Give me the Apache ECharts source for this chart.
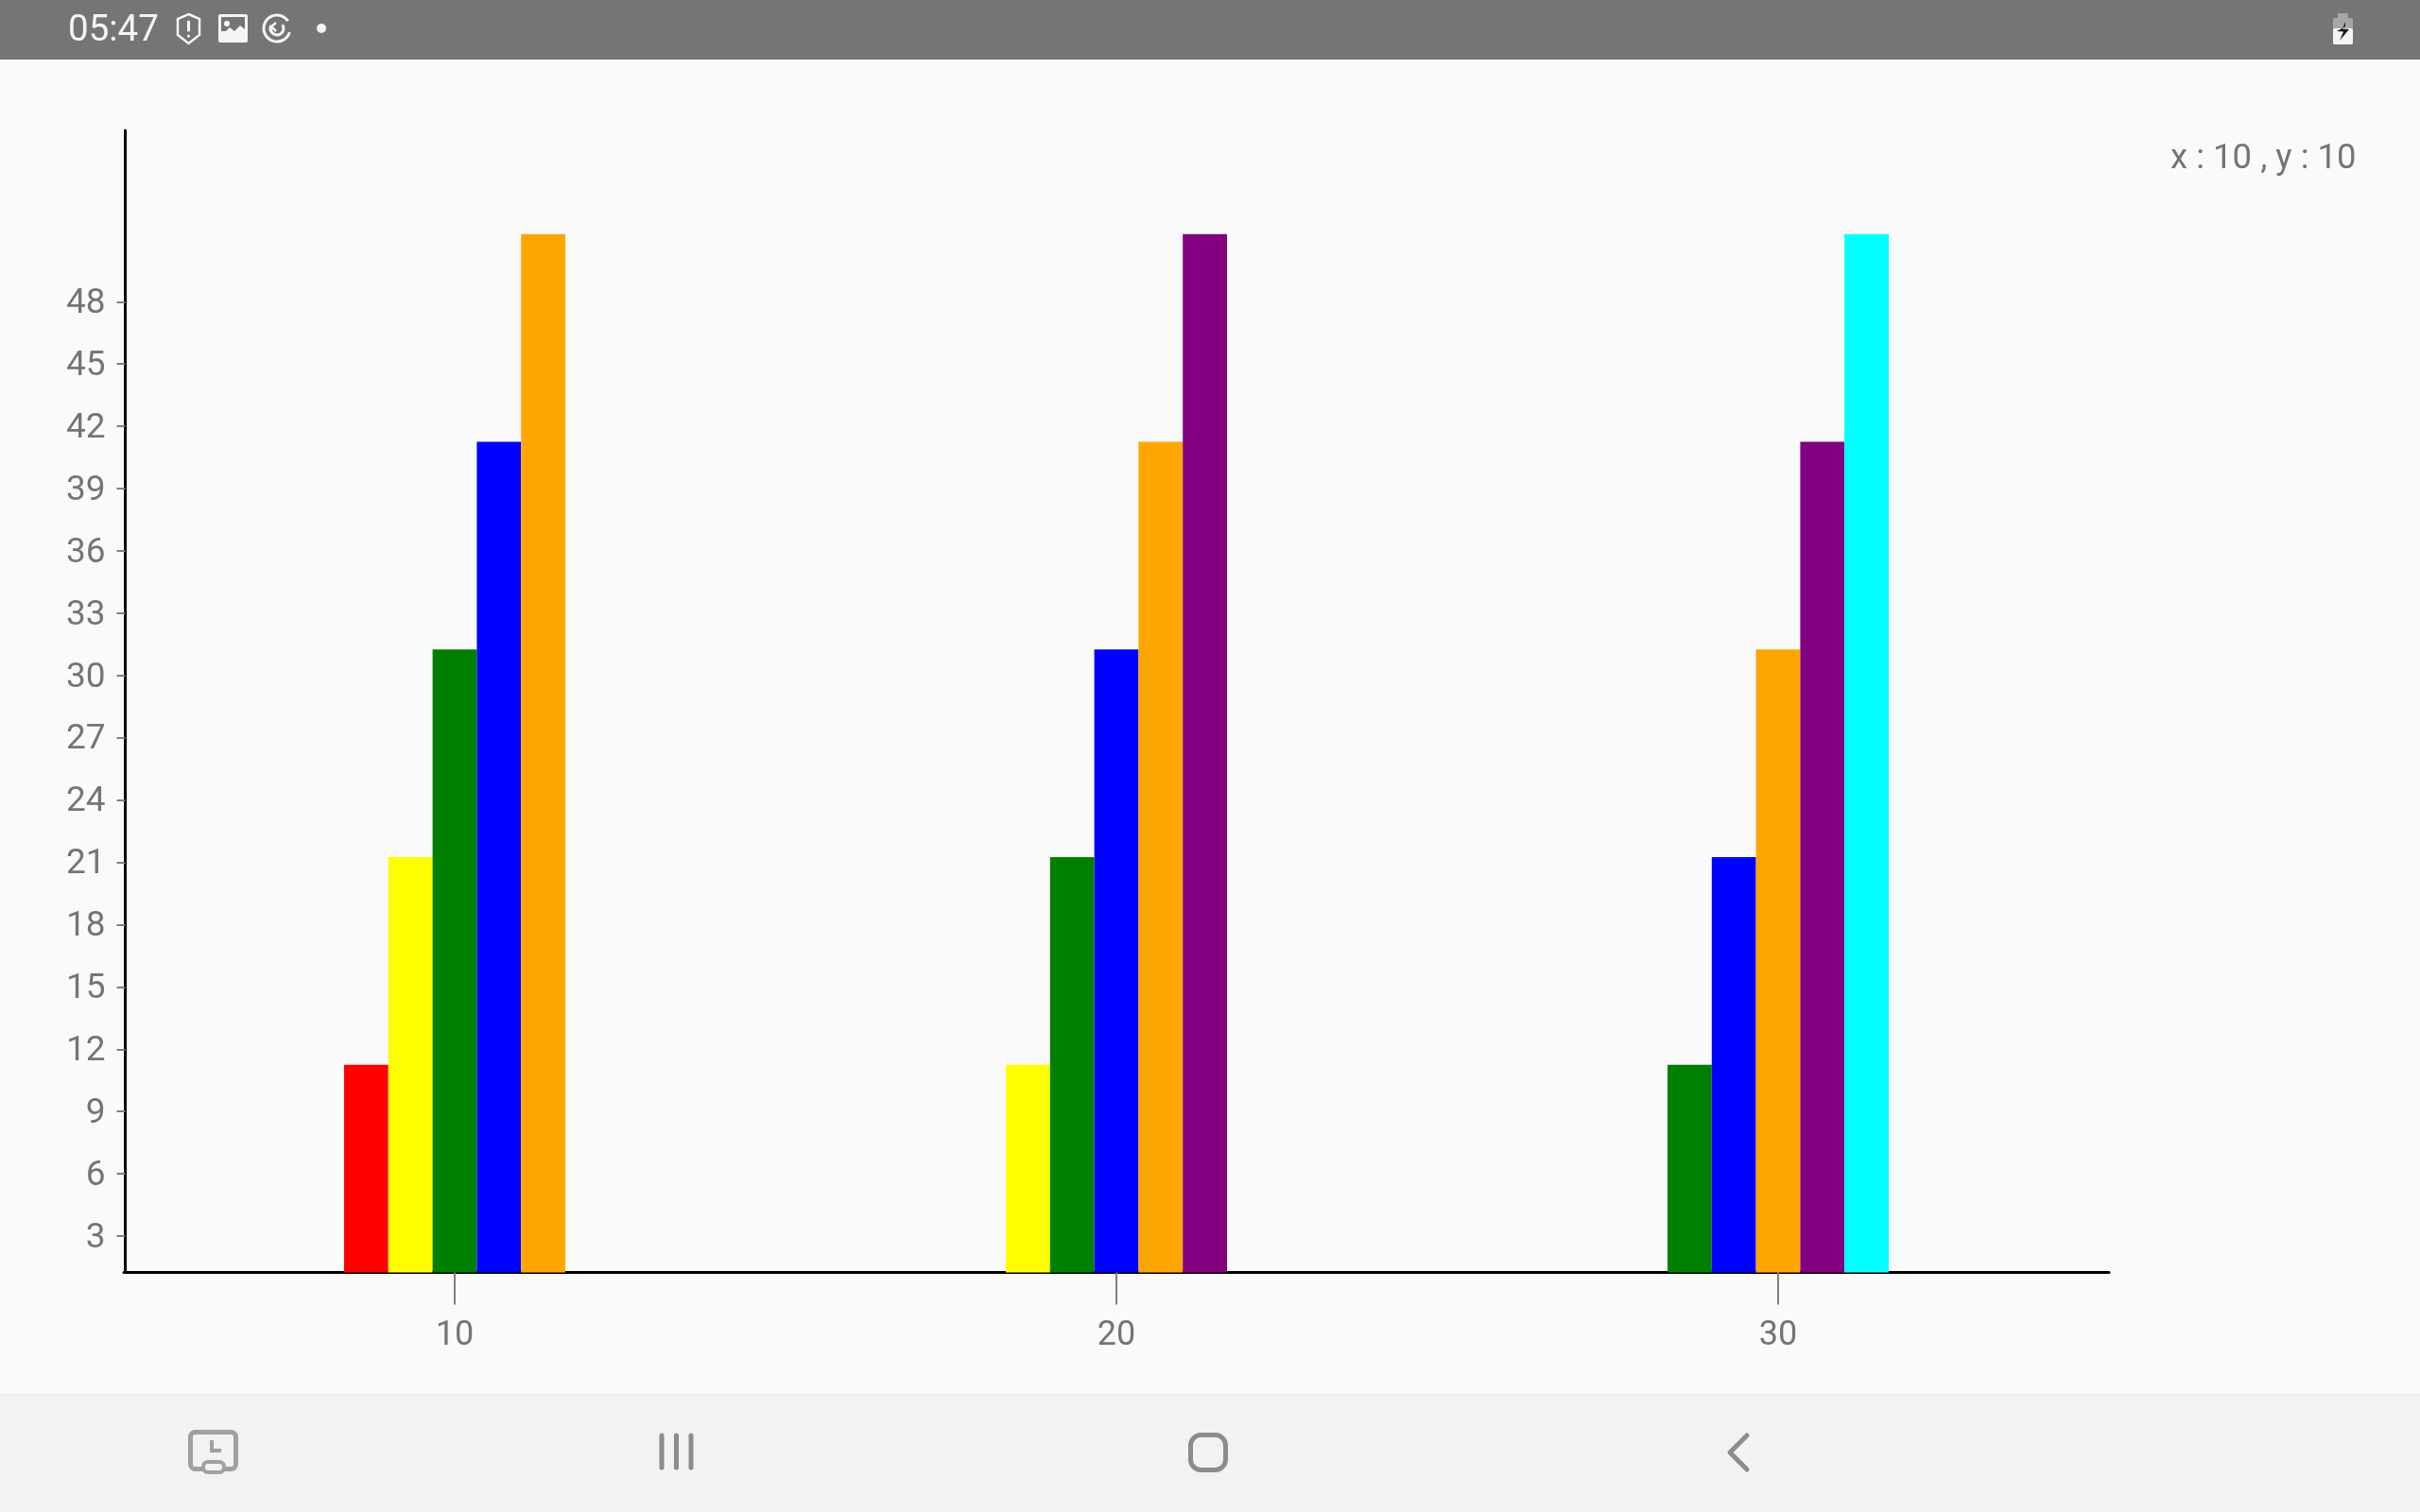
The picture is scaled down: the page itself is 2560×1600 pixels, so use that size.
<!DOCTYPE html>
<html>
<head>
<meta charset="utf-8">
<style>html,body{margin:0;padding:0;background:#fafafa}#c{width:2560px;height:1600px}</style>
<script src="https://cdn.jsdelivr.net/npm/echarts@6/dist/echarts.min.js"></script>
</head>
<body>
<div id="c"></div>
<script>
const categories = ['10', '20', '30'];
const yTicks = [3, 6, 9, 12, 15, 18, 21, 24, 27, 30, 33, 36, 39, 42, 45, 48];
const bar1 = [11.25, 11.25, 11.25];
const bar2 = [21.25, 21.25, 21.25];
const bar3 = [31.25, 31.25, 31.25];
const bar4 = [41.25, 41.25, 41.25];
const bar5 = [51.25, 51.25, 51.25];
const colors1 = ['#ff0000', '#ffff00', '#008000'];
const colors2 = ['#ffff00', '#008000', '#0000ff'];
const colors3 = ['#008000', '#0000ff', '#ffa500'];
const colors4 = ['#0000ff', '#ffa500', '#800080'];
const colors5 = ['#ffa500', '#800080', '#00ffff'];
const readout = 'x : 10 , y : 10';
const clock = '05:47';

function barSeries(values, cols) {
  return {
    type: 'bar', barWidth: 46.8, barGap: 0, silent: true,
    data: values.map((v, i) => ({ value: v, itemStyle: { color: cols[i] } }))
  };
}
const W = '#f5f5f5', N = '#8c8c8c', R = '#a0a0a0';
const line = (x1, y1, x2, y2, c, w) => ({ type: 'line', shape: { x1, y1, x2, y2 }, style: { stroke: c, lineWidth: w, lineCap: 'round' }, z: 20 });
const graphics = [
  { type: 'rect', shape: { x: 0, y: 0, width: 2560, height: 63 }, style: { fill: '#757575' }, z: 10 },
  { type: 'rect', shape: { x: 0, y: 1474, width: 2560, height: 126 }, style: { fill: '#f2f2f2' }, z: 10 },
  { type: 'text', x: 72, y: 33, z: 20, style: { text: clock, font: '38.5px Roboto', fill: W, textVerticalAlign: 'middle' } },
  // shield
  { type: 'polygon', shape: { points: [[199.5, 15], [211, 20], [211, 37], [199.5, 46], [188, 37], [188, 20]] }, style: { fill: 'none', stroke: W, lineWidth: 2.5 }, z: 20 },
  line(199.5, 23, 199.5, 32, W, 3), line(199.5, 38, 199.5, 38.2, W, 3),
  // picture
  { type: 'rect', shape: { x: 231, y: 15, width: 31, height: 30, r: 2 }, style: { fill: W }, z: 20 },
  { type: 'rect', shape: { x: 234, y: 18, width: 25, height: 15 }, style: { fill: '#757575' }, z: 21 },
  { type: 'polygon', shape: { points: [[234, 38], [243, 29], [248, 33], [254, 27], [259, 31], [259, 38]] }, style: { fill: W }, z: 22 },
  { type: 'circle', shape: { cx: 240, cy: 25, r: 3 }, style: { fill: W }, z: 22 },
  // rotate icon
  { type: 'arc', shape: { cx: 293, cy: 30, r: 14, startAngle: 0.3, endAngle: 5.7 }, style: { fill: 'none', stroke: W, lineWidth: 3 }, z: 20 },
  { type: 'arc', shape: { cx: 293, cy: 30, r: 7, startAngle: -0.6, endAngle: 3.6 }, style: { fill: 'none', stroke: W, lineWidth: 3 }, z: 20 },
  { type: 'polyline', shape: { points: [[292, 24], [287, 28], [292, 33]] }, style: { fill: 'none', stroke: W, lineWidth: 2.5 }, z: 20 },
  { type: 'circle', shape: { cx: 340, cy: 30, r: 5 }, style: { fill: W }, z: 20 },
  // battery
  { type: 'rect', shape: { x: 2473, y: 14, width: 11, height: 6 }, style: { fill: '#a6a6a6' }, z: 20 },
  { type: 'rect', shape: { x: 2468, y: 19, width: 21, height: 28, r: 2 }, style: { fill: '#a6a6a6' }, z: 20 },
  { type: 'rect', shape: { x: 2468, y: 30, width: 21, height: 17, r: 2 }, style: { fill: '#f5f5f5' }, z: 21 },
  { type: 'polygon', shape: { points: [[2481, 28], [2472, 33], [2479, 33.5], [2475, 43], [2485, 31], [2478, 30.5], [2481, 23]] }, style: { fill: '#1a1a1a' }, z: 22 },
  // recents screenshot icon
  { type: 'rect', shape: { x: 201.5, y: 1515.5, width: 48, height: 39, r: 5 }, style: { fill: 'none', stroke: R, lineWidth: 5 }, z: 20 },
  { type: 'rect', shape: { x: 215, y: 1547, width: 22, height: 11, r: 5 }, style: { fill: '#f2f2f2', stroke: R, lineWidth: 4 }, z: 21 },
  { type: 'polyline', shape: { points: [[224, 1524], [224, 1535], [234, 1535]] }, style: { fill: 'none', stroke: R, lineWidth: 4 }, z: 20 },
  // nav bars
  line(700, 1519, 700, 1553, N, 5), line(715.5, 1519, 715.5, 1553, N, 5), line(731, 1519, 731, 1553, N, 5),
  // home
  { type: 'rect', shape: { x: 1259.5, y: 1518.5, width: 37, height: 37, r: 11 }, style: { fill: 'none', stroke: N, lineWidth: 5 }, z: 20 },
  // back
  { type: 'polyline', shape: { points: [[1848, 1519], [1830, 1537], [1848, 1555]] }, style: { fill: 'none', stroke: N, lineWidth: 5, lineCap: 'round', lineJoin: 'round' }, z: 20 },
  // readout
  { type: 'text', x: 2296, y: 169, z: 20, style: { text: readout, font: '36.5px Roboto', fill: '#757575', textVerticalAlign: 'middle' } }
];

const chart = echarts.init(document.getElementById('c'), null, { renderer: 'canvas' });
chart.setOption({
  animation: false,
  backgroundColor: '#fafafa',
  grid: { left: 131, right: 329, top: 138, bottom: 253.5, containLabel: false },
  xAxis: {
    type: 'category', data: categories,
    axisLine: { show: true, onZero: false, lineStyle: { color: '#000', width: 3 } },
    axisTick: { show: true, alignWithLabel: true, length: 34, lineStyle: { color: '#808080', width: 2 } },
    axisLabel: { color: '#757575', fontFamily: 'Roboto', fontSize: 36, margin: 49 },
    splitLine: { show: false }
  },
  yAxis: {
    type: 'value', min: 1.25, max: 56.25, offset: -1.5,
    axisLine: { show: true, onZero: false, lineStyle: { color: '#000', width: 3 } },
    axisTick: { show: true, length: 9, customValues: yTicks, lineStyle: { color: '#808080', width: 2 } },
    axisLabel: {
      margin: 21, customValues: yTicks, formatter: '{a|{value}}',
      rich: { a: { color: '#757575', fontFamily: 'Roboto', fontSize: 37, padding: [5, 0, 0, 0] } }
    },
    splitLine: { show: false }
  },
  series: [
    barSeries(bar1, colors1), barSeries(bar2, colors2), barSeries(bar3, colors3),
    barSeries(bar4, colors4), barSeries(bar5, colors5)
  ],
  graphic: graphics
});
</script>
</body>
</html>
